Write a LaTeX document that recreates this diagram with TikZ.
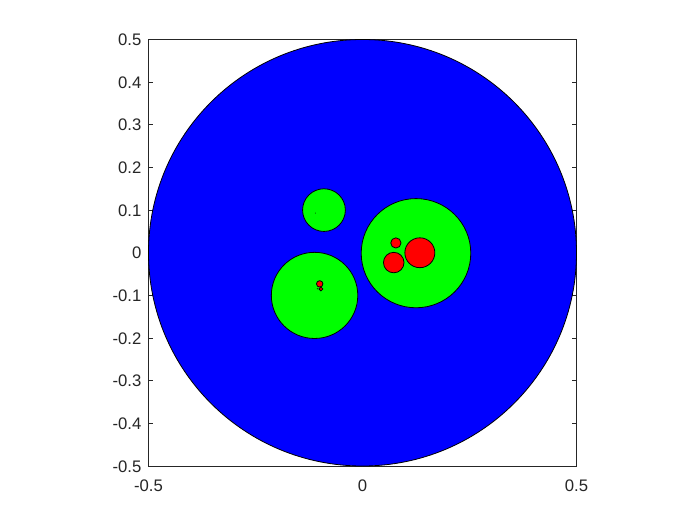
\documentclass[tikz,border=0pt]{standalone}
\usepackage{fontspec}
\setmainfont{Liberation Sans}
\definecolor{axgray}{RGB}{38,38,38}
\definecolor{mblue}{RGB}{0,0,255}
\definecolor{mgreen}{RGB}{0,255,0}
\definecolor{mred}{RGB}{255,0,0}
\tikzset{
  axisline/.style={draw=axgray, line width=0.8pt},
  ticklabel/.style={inner sep=0pt, text=axgray, font=\fontsize{16.7pt}{18pt}\selectfont},
  ylab/.style={ticklabel, anchor=base east, xshift=-7pt, yshift=-6pt},
  xlab/.style={ticklabel, anchor=base, yshift=-25.5pt},
  disc/.style={draw=black, line width=0.8pt}
}
\begin{document}
\begin{tikzpicture}[x=428pt,y=426.5pt]
\useasboundingbox[fill=white] (-0.84696,-0.63834) rectangle (0.78855,0.59262);
% ticks
\foreach \t in {-0.4,-0.3,-0.2,-0.1,0,0.1,0.2,0.3,0.4} {
  \draw[axisline] (-0.5,\t) -- ++(4.5pt,0);
  \draw[axisline] (0.5,\t) -- ++(-4.5pt,0);
}
\draw[axisline] (0,-0.5) -- ++(0,4.5pt);
\draw[axisline] (0,0.5) -- ++(0,-4.5pt);
% box
\draw[axisline] (-0.5,-0.5) rectangle (0.5,0.5);
% discs
\fill[mblue, disc] (0,0) circle[radius=0.5];
\fill[mgreen, disc] (-0.09,0.1) circle[radius=0.05];
\fill[mgreen, disc] (-0.112,-0.1) circle[radius=0.101];
\fill[mgreen, disc] (0.125,-0.001) circle[radius=0.128];
\fill[mred, disc] (0.134,0) circle[radius=0.035];
\fill[mred, disc] (0.078,0.023) circle[radius=0.012];
\fill[mred, disc] (0.073,-0.023) circle[radius=0.024];
\fill[mred, disc] (-0.100,-0.073) circle[radius=0.0075];
\fill[mred, disc] (-0.097,-0.085) circle[radius=0.0045];
\fill[black!70!green] (-0.105,-0.084) circle[radius=0.0018];
\fill[black!70!green] (-0.11,0.093) circle[radius=0.0012];
% tick labels
\foreach \t/\l in {0.5/0.5,0.4/0.4,0.3/0.3,0.2/0.2,0.1/0.1,0/0,-0.1/-0.1,-0.2/-0.2,-0.3/-0.3,-0.4/-0.4,-0.5/-0.5} {
  \node[ylab] (yl\l) at (-0.5,\t) {\l};
}
\node[xlab] (xlm) at (-0.5,-0.5) {-0.5};
\node[xlab] (xlz) at (0,-0.5) {0};
\node[xlab] (xlp) at (0.5,-0.5) {0.5};
\end{tikzpicture}
\end{document}
